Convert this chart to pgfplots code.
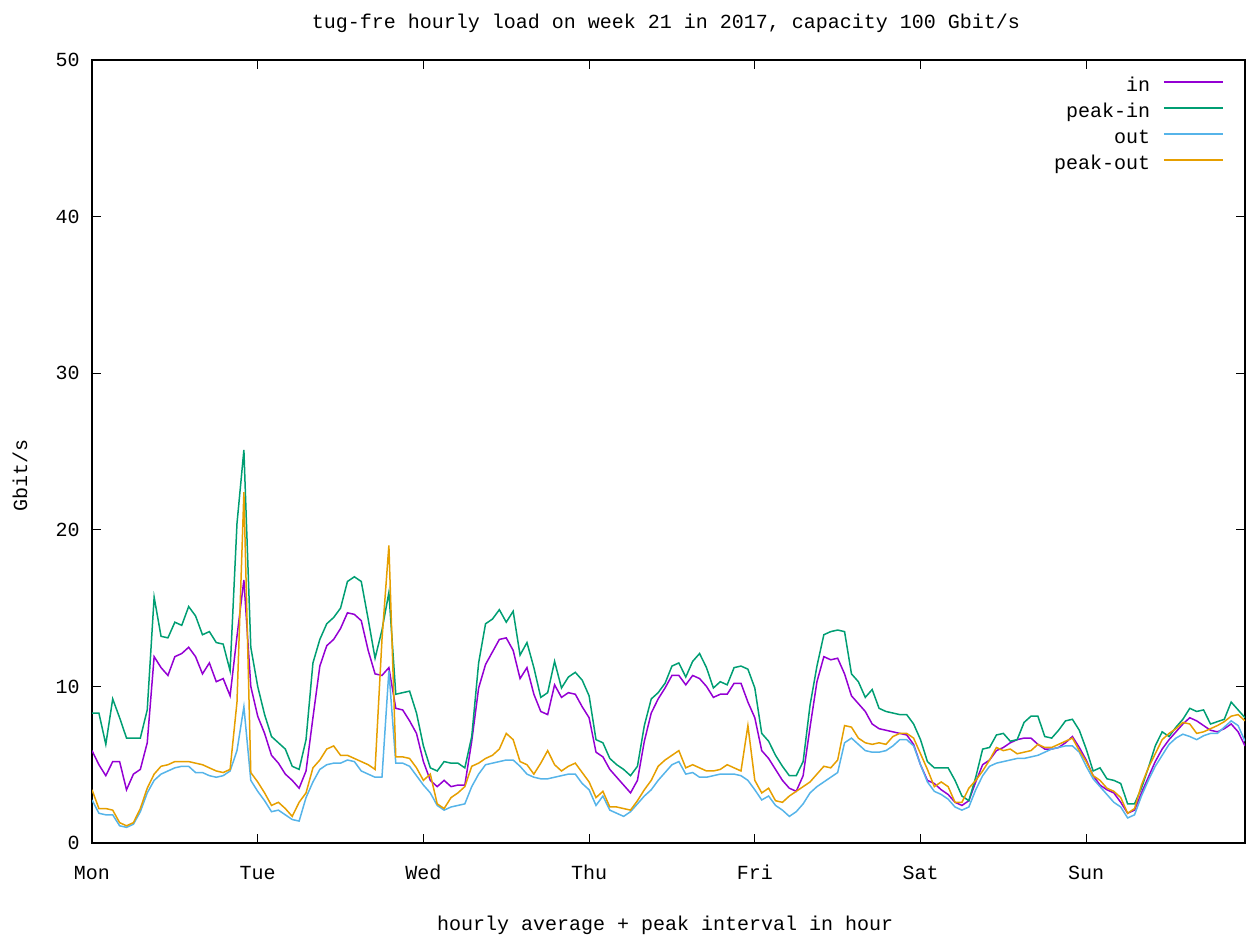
\documentclass[border=0pt]{standalone}
\usepackage{fontspec}
\setmainfont{Liberation Mono}
\usepackage{pgfplots}
\usepackage{pgfplotstable}
\pgfplotsset{compat=1.18}

\definecolor{cin}{HTML}{9400D3}
\definecolor{cpin}{HTML}{009E73}
\definecolor{cout}{HTML}{56B4E9}
\definecolor{cpout}{HTML}{E69F00}

% hour of week, in, peak-in, out, peak-out (Gbit/s)
\pgfplotstableread{
h in pin out pout
0 5.9 8.3 2.75 3.4
1 5.0 8.3 1.9 2.2
2 4.3 6.3 1.8 2.2
3 5.2 9.2 1.8 2.1
4 5.2 8.0 1.1 1.3
5 3.4 6.7 1.0 1.1
6 4.4 6.7 1.2 1.3
7 4.7 6.7 2.0 2.2
8 6.4 8.5 3.2 3.5
9 11.9 15.7 4.0 4.4
10 11.2 13.2 4.4 4.9
11 10.7 13.1 4.6 5.0
12 11.9 14.1 4.8 5.2
13 12.1 13.9 4.9 5.2
14 12.5 15.1 4.9 5.2
15 11.9 14.5 4.5 5.1
16 10.8 13.3 4.5 5.0
17 11.5 13.5 4.3 4.8
18 10.3 12.8 4.2 4.6
19 10.5 12.7 4.3 4.5
20 9.4 11.0 4.6 4.7
21 13.2 20.4 5.9 9.0
22 16.8 25.1 8.7 22.4
23 10.0 12.5 4.0 4.5
24 8.1 10.0 3.3 3.9
25 7.0 8.2 2.7 3.2
26 5.6 6.8 2.0 2.4
27 5.1 6.4 2.1 2.6
28 4.4 6.0 1.8 2.2
29 4.0 4.9 1.5 1.7
30 3.5 4.7 1.4 2.6
31 4.6 6.6 2.9 3.2
32 8.0 11.5 3.9 4.8
33 11.3 13.0 4.7 5.3
34 12.6 14.0 5.0 6.0
35 13.0 14.4 5.1 6.2
36 13.7 15.0 5.1 5.6
37 14.7 16.7 5.3 5.6
38 14.6 17.0 5.2 5.4
39 14.2 16.7 4.6 5.2
40 12.3 14.3 4.4 5.0
41 10.8 11.8 4.2 4.7
42 10.7 13.6 4.2 13.0
43 11.2 16.0 11.0 19.0
44 8.6 9.5 5.1 5.5
45 8.5 9.6 5.1 5.5
46 7.8 9.7 4.9 5.4
47 7.0 8.3 4.3 4.8
48 5.2 6.2 3.7 4.0
49 4.0 4.8 3.2 4.4
50 3.6 4.6 2.4 2.5
51 4.0 5.2 2.1 2.2
52 3.6 5.1 2.3 2.9
53 3.7 5.1 2.4 3.2
54 3.7 4.8 2.5 3.6
55 6.5 6.8 3.6 4.9
56 9.9 11.5 4.4 5.1
57 11.4 14.0 5.0 5.4
58 12.2 14.3 5.1 5.6
59 13.0 14.9 5.2 6.0
60 13.1 14.1 5.3 7.0
61 12.3 14.8 5.3 6.6
62 10.5 12.0 4.9 5.2
63 11.2 12.8 4.4 5.0
64 9.5 11.2 4.2 4.4
65 8.4 9.3 4.1 5.1
66 8.2 9.6 4.1 5.9
67 10.1 11.6 4.2 5.0
68 9.3 9.9 4.3 4.6
69 9.6 10.6 4.4 4.9
70 9.5 10.9 4.4 5.1
71 8.7 10.4 3.8 4.5
72 8.0 9.4 3.4 3.9
73 5.8 6.6 2.4 2.9
74 5.5 6.4 3.0 3.3
75 4.7 5.4 2.1 2.3
76 4.2 5.0 1.9 2.3
77 3.7 4.7 1.7 2.2
78 3.2 4.3 2.0 2.1
79 4.0 4.9 2.5 2.7
80 6.5 7.5 3.0 3.4
81 8.3 9.2 3.4 4.0
82 9.2 9.6 4.0 4.9
83 9.9 10.2 4.5 5.3
84 10.7 11.3 5.0 5.6
85 10.7 11.5 5.2 5.9
86 10.1 10.6 4.4 4.8
87 10.7 11.6 4.5 5.0
88 10.5 12.1 4.2 4.8
89 10.0 11.2 4.2 4.6
90 9.3 9.9 4.3 4.6
91 9.5 10.3 4.4 4.7
92 9.5 10.1 4.4 5.0
93 10.2 11.2 4.4 4.8
94 10.2 11.3 4.3 4.6
95 9.0 11.1 4.0 7.5
96 8.0 9.9 3.4 4.0
97 5.9 7.0 2.75 3.2
98 5.4 6.5 3.0 3.5
99 4.7 5.6 2.4 2.7
100 4.0 4.9 2.1 2.6
101 3.5 4.3 1.7 3.0
102 3.3 4.3 2.0 3.3
103 4.3 5.2 2.5 3.6
104 7.4 8.8 3.2 3.9
105 10.3 11.3 3.6 4.4
106 11.9 13.3 3.9 4.9
107 11.7 13.5 4.2 4.8
108 11.8 13.6 4.5 5.3
109 10.8 13.5 6.4 7.5
110 9.4 10.8 6.7 7.4
111 8.9 10.3 6.3 6.7
112 8.4 9.3 5.9 6.4
113 7.6 9.8 5.8 6.3
114 7.3 8.6 5.8 6.4
115 7.2 8.4 5.9 6.3
116 7.1 8.3 6.2 6.8
117 7.0 8.2 6.6 7.0
118 6.9 8.2 6.6 7.0
119 6.3 7.6 6.2 6.7
120 5.0 6.6 5.0 5.7
121 4.0 5.2 3.9 4.7
122 3.8 4.8 3.3 3.6
123 3.4 4.8 3.1 3.9
124 3.1 4.8 2.8 3.6
125 2.6 4.0 2.3 2.6
126 2.4 3.0 2.1 2.6
127 2.7 2.7 2.3 3.5
128 3.9 4.2 3.4 4.0
129 5.0 6.0 4.3 4.6
130 5.3 6.1 4.9 5.3
131 5.9 6.9 5.1 6.1
132 6.1 7.0 5.2 5.9
133 6.4 6.5 5.3 6.0
134 6.6 6.6 5.4 5.7
135 6.7 7.7 5.4 5.8
136 6.7 8.1 5.5 5.9
137 6.3 8.1 5.6 6.3
138 6.0 6.8 5.8 6.1
139 6.0 6.7 6.0 6.1
140 6.1 7.2 6.1 6.3
141 6.4 7.8 6.2 6.5
142 6.8 7.9 6.2 6.7
143 6.1 7.2 5.8 5.9
144 5.3 6.0 4.9 5.2
145 4.3 4.6 4.1 4.3
146 3.7 4.8 3.6 4.0
147 3.4 4.1 3.1 3.5
148 3.2 4.0 2.6 3.3
149 2.6 3.8 2.3 2.9
150 1.9 2.5 1.6 1.9
151 2.1 2.5 1.8 2.2
152 3.2 3.5 3.0 3.7
153 4.2 4.8 4.0 4.8
154 5.2 6.2 4.9 5.7
155 6.0 7.1 5.6 6.6
156 6.6 6.8 6.3 7.0
157 7.1 7.4 6.7 7.3
158 7.6 7.9 6.95 7.7
159 8.0 8.6 6.8 7.6
160 7.8 8.4 6.6 7.0
161 7.5 8.5 6.85 7.1
162 7.2 7.6 7.0 7.3
163 7.1 7.75 7.0 7.5
164 7.3 7.9 7.4 7.75
165 7.6 9.0 7.8 8.1
166 7.1 8.5 7.5 8.2
167 6.2 8.0 6.5 7.8
}\load

\begin{document}
\begin{tikzpicture}[font=\fontsize{10}{12}\selectfont]
\begin{axis}[
    scale only axis,
    width=576.5pt, height=391.5pt,
    xmin=0, xmax=167,
    ymin=0, ymax=50,
    xtick={0,24,48,72,96,120,144},
    xticklabels={Mon,Tue,Wed,Thu,Fri,Sat,Sun},
    ytick={0,10,20,30,40,50},
    tick align=inside,
    xtick pos=both, ytick pos=both,
    major tick length=4.5pt,
    axis line style={line width=0.6pt},
    tick style={line width=0.6pt, black},
    /pgf/number format/assume math mode=true,
    tick label style={font=\fontsize{10}{12}\selectfont},
    yticklabel style={inner sep=0pt, xshift=-6pt},
    xticklabel style={inner sep=0pt, anchor=north, text height=7pt, text depth=2pt, yshift=-11pt},
    xlabel={hourly average + peak interval in hour},
    xlabel style={at={(axis description cs:0.497,-0.1047)}, anchor=center},
    ylabel={Gbit/s},
    ylabel style={at={(axis description cs:-0.0624,0.469)}, anchor=center},
    legend plot pos=right,
    legend cell align=right,
    legend style={at={(axis description cs:1,1)}, anchor=north east,
        xshift=-10.5pt, yshift=-7.5pt, draw=none, fill=none,
        row sep=0pt, inner sep=0pt,
        nodes={inner sep=0pt, text height=8pt, text depth=5pt},
        /tikz/every odd column/.append style={column sep=6.5pt},
        font=\fontsize{10}{12}\selectfont},
]
% legend samples, colours given directly
\addlegendimage{legend image code/.code={\draw[cin, line width=0.75pt] (0pt,3.3pt) -- (29.5pt,3.3pt);}}
\addlegendentry{in}
\addlegendimage{legend image code/.code={\draw[cpin, line width=0.75pt] (0pt,3.3pt) -- (29.5pt,3.3pt);}}
\addlegendentry{peak-in}
\addlegendimage{legend image code/.code={\draw[cout, line width=0.75pt] (0pt,3.3pt) -- (29.5pt,3.3pt);}}
\addlegendentry{out}
\addlegendimage{legend image code/.code={\draw[cpout, line width=0.75pt] (0pt,3.3pt) -- (29.5pt,3.3pt);}}
\addlegendentry{peak-out}

\addplot[color=cin, line width=0.75pt, forget plot] table[x=h, y=in] {\load};
\addplot[color=cpin, line width=0.75pt, forget plot] table[x=h, y=pin] {\load};
\addplot[color=cout, line width=0.75pt, forget plot] table[x=h, y=out] {\load};
\addplot[color=cpout, line width=0.75pt, forget plot] table[x=h, y=pout] {\load};
\end{axis}
\node[anchor=base, inner sep=0pt] at ([xshift=-1.25pt, yshift=16pt]current axis.north)
    {tug-fre hourly load on week 21 in 2017, capacity 100 Gbit/s};
\pgfresetboundingbox
\path[use as bounding box] ([shift={(-46pt,-45.5pt)}]current axis.south west) rectangle ++(623pt,467pt);
\end{tikzpicture}
\end{document}
